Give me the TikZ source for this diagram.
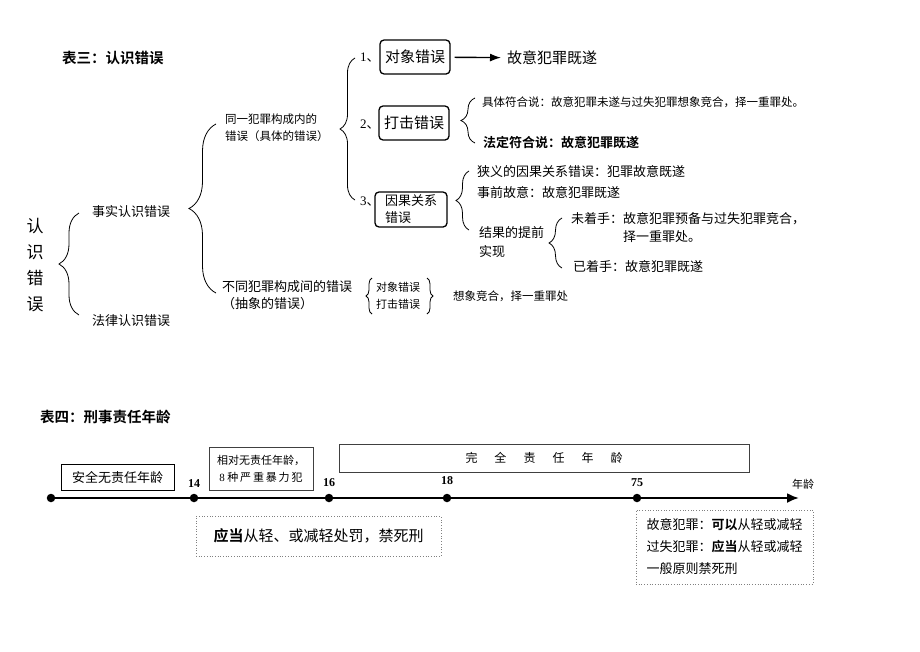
\documentclass[tikz,border=0pt]{standalone}
\usepackage{fontspec}
\setmainfont{Noto Sans CJK SC}[BoldFont={Noto Sans CJK SC Bold}]
\newfontfamily\numfont{Liberation Serif}
\usetikzlibrary{positioning,decorations.pathreplacing,arrows.meta}
\tikzset{txt/.style={anchor=west,inner sep=0pt,font=\fontsize{13}{15}\selectfont},
         sml/.style={anchor=west,inner sep=0pt,font=\fontsize{11.5}{17}\selectfont,align=left},
         mid/.style={anchor=west,inner sep=0pt,font=\fontsize{15}{17}\selectfont},
         ttl/.style={anchor=west,inner sep=0pt,font=\fontsize{14.5}{17}\selectfont\bfseries},
         brc/.style={decorate,decoration={brace,amplitude=#1},line width=0.8pt},
         rbox/.style={draw,rounded corners=4pt,line width=1.3pt,inner sep=0pt},
         sbox/.style={draw,line width=0.9pt,inner sep=0pt},
         dbox/.style={draw=gray,dotted,line width=0.7pt,inner sep=0pt},
         dot/.style={circle,fill=black,minimum size=8.5pt,inner sep=0pt},
         num/.style={inner sep=0pt,font=\numfont\fontsize{12}{14}\selectfont\bfseries}}
\begin{document}
\begin{tikzpicture}[x=1pt,y=-1pt]
  \useasboundingbox[fill=white] (0,0) rectangle (920,651);
  % table three
  \node[ttl] (t3) at (62,58) {表三：认识错误};
  \node[inner sep=0pt,align=center,font=\fontsize{17}{26}\selectfont] (root) at (35,265) {认\\识\\错\\误};
  \coordinate (b1t) at (79,213); \coordinate (b1b) at (79,315);
  \draw[brc=20] (b1b) -- (b1t);
  \node[txt] (fact) at (92,212) {事实认识错误};
  \node[txt] (law) at (92,321) {法律认识错误};
  \coordinate (b2t) at (216,124); \coordinate (b2b) at (216,293);
  \draw[brc=27] (b2b) -- (b2t);
  \node[sml,font=\fontsize{11.5}{17}\selectfont] (same) at (225,127.5) {同一犯罪构成内的\\错误（具体的错误）};
  \node[txt,align=left,font=\fontsize{13}{17}\selectfont] (diff) at (222,295.5) {不同犯罪构成间的错误\\（抽象的错误）};
  \coordinate (b3t) at (355,58); \coordinate (b3b) at (355,200);
  \draw[brc=15] (b3b) -- (b3t);
  % 1
  \node[txt] (n1) at (360,58) {{\numfont 1}、};
  \node[rbox,minimum width=70pt,minimum height=34pt,font=\fontsize{15}{17}\selectfont] (obj) at (415,57) {对象错误};
  \node[mid] (r1) at (507,58) {故意犯罪既遂};
  \draw[line width=1.4pt,-{Latex[length=11pt,width=8pt]},shorten <=4pt,shorten >=6pt] (obj) -- (r1);
  % 2
  \node[txt] (n2) at (360,125) {{\numfont 2}、};
  \node[rbox,minimum width=70pt,minimum height=34pt,font=\fontsize{15}{17}\selectfont] (hit) at (414,123) {打击错误};
  \coordinate (b4t) at (475,98); \coordinate (b4b) at (475,143);
  \draw[brc=14] (b4b) -- (b4t);
  \node[sml] (h1) at (482,102) {具体符合说：故意犯罪未遂与过失犯罪想象竞合，择一重罪处。};
  \node[txt,font=\fontsize{13}{15}\selectfont\bfseries] (h2) at (483,143) {法定符合说：故意犯罪既遂};
  % 3
  \node[txt] (n3) at (360,202) {{\numfont 3}、};
  \node[rbox,minimum width=72pt,minimum height=35pt,align=left,font=\fontsize{13}{17}\selectfont] (cause) at (411,209.5) {因果关系\\错误};
  \coordinate (b5t) at (469,171); \coordinate (b5b) at (469,230);
  \draw[brc=13] (b5b) -- (b5t);
  \node[txt] (c1) at (477,172) {狭义的因果关系错误：犯罪故意既遂};
  \node[txt] (c2) at (477,193) {事前故意：故意犯罪既遂};
  \node[txt,align=left,font=\fontsize{13}{19}\selectfont] (c3) at (479,242.5) {结果的提前\\实现};
  \coordinate (b6t) at (562,218); \coordinate (b6b) at (562,268);
  \draw[brc=13] (b6b) -- (b6t);
  \node[txt,align=left,font=\fontsize{13}{18}\selectfont] (c31) at (571,228) {未着手：故意犯罪预备与过失犯罪竞合，\\\hspace{52pt}择一重罪处。};
  \node[txt] (c32) at (573,267) {已着手：故意犯罪既遂};
  % abstract error
  \coordinate (b7t) at (372,278); \coordinate (b7b) at (372,314);
  \draw[brc=6] (b7b) -- (b7t);
  \node[sml,font=\fontsize{11}{17}\selectfont] (ab) at (376,295.5) {对象错误\\打击错误};
  \coordinate (b8t) at (427,278); \coordinate (b8b) at (427,314);
  \draw[brc=6] (b8t) -- (b8b);
  \node[sml] (abr) at (453,296) {想象竞合，择一重罪处};
  % table four
  \node[ttl] (t4) at (40,417) {表四：刑事责任年龄};
  \node[dot] (a0) at (51,498) {};
  \node[dot] (a14) at (194,498) {};
  \node[dot] (a16) at (329,498) {};
  \node[dot] (a18) at (447,498) {};
  \node[dot] (a75) at (637,498) {};
  \coordinate (aend) at (799,498);
  \draw[line width=2.2pt,-{Latex[length=12pt,width=10pt]}] (a0.center) -- (aend);
  \node[num,above=6pt of a14] (l14) {14};
  \node[num,above=7pt of a16] (l16) {16};
  \node[num,above=9pt of a18] (l18) {18};
  \node[num,above=7pt of a75] (l75) {75};
  \node[inner sep=0pt,font=\fontsize{11}{13}\selectfont] (age) at (803,484) {年龄};
  \node[sbox,minimum width=113pt,minimum height=26pt,font=\fontsize{13}{15}\selectfont] (none) at (117.5,477) {安全无责任年龄};
  \node[sbox,draw=darkgray,minimum width=104pt,minimum height=43pt,align=center,font=\fontsize{11}{17}\selectfont] (rel) at (261,468.5) {相对无责任年龄，\\{\numfont 8} 种\,严\,重\,暴\,力\,犯};
  \node[sbox,draw=darkgray,minimum width=410pt,minimum height=28pt,font=\fontsize{12}{14}\selectfont] (full) at (544,458) {完\hspace{17pt}全\hspace{17pt}责\hspace{17pt}任\hspace{17pt}年\hspace{17pt}龄};
  \node[dbox,minimum width=245pt,minimum height=40pt,font=\fontsize{15}{17}\selectfont] (light) at (318.5,536) {\textbf{应当}从轻、或减轻处罚，禁死刑};
  \node[dbox,minimum width=177pt,minimum height=74pt,inner xsep=9pt,align=left,font=\fontsize{13}{22}\selectfont] (old) at (724.5,547) {故意犯罪：\textbf{可以}从轻或减轻\\过失犯罪：\textbf{应当}从轻或减轻\\一般原则禁死刑};
\end{tikzpicture}
\end{document}
